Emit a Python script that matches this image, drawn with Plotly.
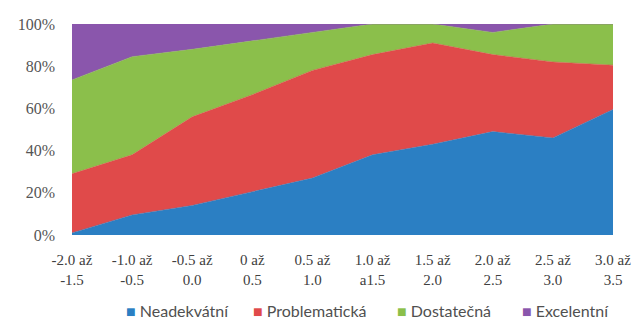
import plotly.graph_objects as go

# Interval categories on the x axis
categories = ["-2.0 až<br>-1.5", "-1.0 až<br>-0.5", "-0.5 až<br>0.0", "0 až<br>0.5",
              "0.5 až<br>1.0", "1.0 až<br>a1.5", "1.5 až<br>2.0", "2.0 až<br>2.5",
              "2.5 až<br>3.0", "3.0 až<br>3.5"]

# Share of each level per interval (percent)
neadekvatni = [1, 9.5, 14, 20.5, 27, 38, 43, 49, 46, 59.5]
problematicka = [28, 28.5, 42, 46, 51, 47.5, 48, 36.5, 36, 21]
dostatecna = [44.5, 46.5, 32, 25.5, 18, 14.5, 9, 10.5, 18, 19.5]
excelentni = [26.5, 15.5, 12, 8, 4, 0, 0, 4, 0, 0]

series = [
    ("Neadekvátní", neadekvatni, "#2b7fc3"),
    ("Problematická", problematicka, "#e04a4a"),
    ("Dostatečná", dostatecna, "#8bbf4b"),
    ("Excelentní", excelentni, "#8a56ac"),
]

y_ticks = [0, 20, 40, 60, 80, 100]
y_tick_text = ["0%", "20%", "40%", "60%", "80%", "100%"]

# Legend entry positions (paper x of each entry's left edge)
legend_x = [0.096, 0.330, 0.597, 0.828]

fig = go.Figure()
for name, vals, color in series:
    fig.add_trace(go.Scatter(
        x=categories, y=vals, name=name, mode="lines",
        stackgroup="one", groupnorm="percent",
        line=dict(width=0.5, color=color), fillcolor=color,
        showlegend=False, hoverinfo="x+y+name",
    ))

# Compact legend: coloured square followed by the series name
for (name, vals, color), lx in zip(series, legend_x):
    fig.add_annotation(
        xref="paper", yref="paper", x=lx, y=-0.36, xanchor="left", yanchor="middle",
        showarrow=False,
        text=f'<span style="color:{color}">■</span> {name}',
        font=dict(family="Lato, Calibri, sans-serif", size=16, color="#505050"),
    )

fig.update_layout(
    width=642, height=333,
    margin=dict(l=72, r=29, t=24, b=98),
    paper_bgcolor="white", plot_bgcolor="white",
    font=dict(family="Liberation Serif, serif", size=14, color="#595959"),
    showlegend=False,
    xaxis=dict(
        type="category", range=[0, len(categories) - 1], showgrid=False,
        tickfont=dict(family="Liberation Serif, serif", size=15, color="#404040"),
        ticks="", showline=False, ticklabelstandoff=14,
    ),
    yaxis=dict(
        range=[0, 100], tickvals=y_ticks, ticktext=y_tick_text,
        showgrid=False, zeroline=False, ticks="", ticklabelstandoff=16,
        tickfont=dict(family="Liberation Serif, serif", size=16, color="#555555"),
    ),
)

fig.write_html("out.html")
